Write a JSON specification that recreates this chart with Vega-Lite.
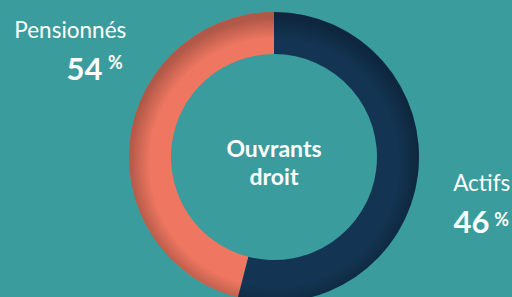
{
  "$schema": "https://vega.github.io/schema/vega-lite/v6.json",
  "width": 512,
  "height": 297,
  "autosize": {"type": "fit", "contains": "padding"},
  "padding": {"left": 32, "top": 17, "right": 0, "bottom": 0},
  "background": "#3a9c9c",
  "config": {"view": {"stroke": null}, "text": {"font": "Lato", "color": "#ffffff"}},
  "data": {"values": [
    {"cat": "Actifs", "value": 46},
    {"cat": "Pensionnés", "value": 54}
  ]},
  "layer": [
    {
      "mark": {"type": "arc", "outerRadius": 145, "innerRadius": 103},
      "encoding": {
        "theta": {"field": "value", "type": "quantitative", "stack": true},
        "color": {"field": "cat", "type": "nominal", "scale": {"domain": ["Actifs", "Pensionnés"], "range": ["#ef7761", "#133553"]}, "legend": null},
        "order": {"field": "cat", "sort": "descending"}
      }
    },
    {
      "data": {"values": [{"ring": "shade"}]},
      "mark": {
        "type": "arc", "outerRadius": 145, "innerRadius": 103,
        "color": {"gradient": "radial", "x1": 0.5, "y1": 0.52, "r1": 0.355, "x2": 0.5, "y2": 0.52, "r2": 0.5,
          "stops": [
            {"offset": 0, "color": "rgba(0,0,0,0)"},
            {"offset": 0.5, "color": "rgba(0,0,0,0)"},
            {"offset": 1, "color": "rgba(0,0,0,0.26)"}
          ]}
      },
      "encoding": {}
    },
    {
      "mark": {"type": "text", "radius": 219.5, "thetaOffset": 3.372, "dx": 2, "dy": -42.5, "fontSize": 22.5, "baseline": "alphabetic", "align": "center"},
      "encoding": {
        "theta": {"field": "value", "type": "quantitative", "stack": true},
        "order": {"field": "cat", "sort": "descending"},
        "text": {"field": "cat"}
      }
    },
    {
      "mark": {"type": "text", "radius": 208.1, "thetaOffset": 3.393, "dx": 4, "dy": -0.5, "fontSize": 31, "fontWeight": "bold", "baseline": "alphabetic", "align": "center"},
      "encoding": {
        "theta": {"field": "value", "type": "quantitative", "stack": true},
        "order": {"field": "cat", "sort": "descending"},
        "text": {"field": "value"}
      }
    },
    {
      "mark": {"type": "text", "radius": 208.4, "thetaOffset": 3.402, "dx": 34.5, "dy": -9.5, "fontSize": 18, "fontWeight": "bold", "baseline": "alphabetic", "align": "center", "text": "%"},
      "encoding": {
        "theta": {"field": "value", "type": "quantitative", "stack": true},
        "order": {"field": "cat", "sort": "descending"}
      }
    },
    {
      "data": {"values": [{"title": ["Ouvrants", "droit"]}]},
      "mark": {"type": "text", "fontSize": 23, "fontWeight": "bold", "baseline": "alphabetic", "align": "center", "lineHeight": 28},
      "encoding": {"text": {"field": "title"}}
    }
  ]
}
